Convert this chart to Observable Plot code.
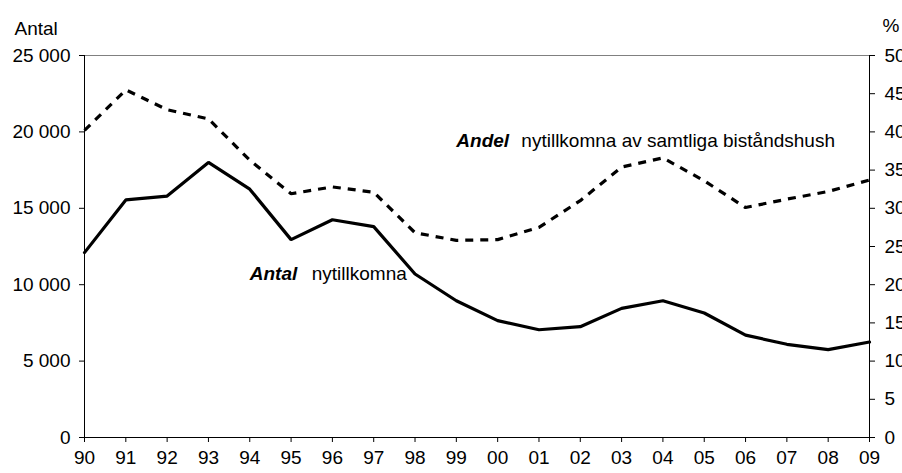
<!DOCTYPE html>
<html>
<head>
<meta charset="utf-8">
<script src="https://cdn.jsdelivr.net/npm/d3@7"></script>
<script src="https://cdn.jsdelivr.net/npm/@observablehq/plot@0.6"></script>
<style>
  html, body { margin: 0; padding: 0; background: #fff; overflow: hidden; width: 902px; height: 473px; }
  #chart svg { display: block; font-family: "Liberation Sans", Arial, sans-serif; }
</style>
</head>
<body>
<div id="chart"></div>
<script>
const years = [1990,1991,1992,1993,1994,1995,1996,1997,1998,1999,2000,2001,2002,2003,2004,2005,2006,2007,2008,2009];
const yearLabels = ["90","91","92","93","94","95","96","97","98","99","00","01","02","03","04","05","06","07","08","09"];
const antal = [12100,15550,15800,18000,16250,12950,14250,13800,10700,8950,7650,7050,7250,8450,8950,8150,6700,6100,5750,6250];
const andel = [40.2,45.5,42.9,41.7,36.3,31.9,32.8,32.1,26.8,25.8,25.9,27.5,31.0,35.4,36.6,33.6,30.1,31.2,32.2,33.7];
const antalTicks = [0,5000,10000,15000,20000,25000];
const pctTicks = [0,5,10,15,20,25,30,35,40,45,50];
const leftTitle = "Antal";
const rightTitle = "%";
const andelLabel = {x: 1999, y: 19400, bold: "Andel", rest: "nytillkomna av samtliga biståndshush"};
const antalLabel = {x: 1994, y: 10700, bold: "Antal", rest: "nytillkomna"};

const k = 25000 / 50; // percent -> left-scale units
const rows = years.map((yr, i) => ({year: yr, antal: antal[i], andel: andel[i] * k}));
const fmt = d => d3.format(",")(d).replace(/,/g, " ");
const FS = 19;

const chart = Plot.plot({
  width: 902,
  height: 473,
  marginLeft: 84,
  marginRight: 33,
  marginTop: 55,
  marginBottom: 36,
  style: {fontFamily: "Liberation Sans, Arial, sans-serif", fontSize: FS + "px", color: "#000", background: "#fff", overflow: "visible"},
  x: {domain: [1990, 2009], axis: null},
  y: {domain: [0, 25000], axis: null},
  marks: [
    Plot.ruleY([25000], {stroke: "#808080", strokeWidth: 1}),
    Plot.ruleY([0], {stroke: "#000", strokeWidth: 1}),
    Plot.ruleX([1990, 2009], {stroke: "#000", strokeWidth: 1}),
    Plot.axisY(antalTicks, {anchor: "left", tickSize: 5, tickPadding: 9, tickFormat: fmt, label: null, stroke: "#000", strokeOpacity: 1, fontSize: FS}),
    Plot.axisY(pctTicks.map(v => v * k), {anchor: "right", tickSize: 5, tickPadding: 10, tickFormat: d => String(d / k), label: null, stroke: "#000", strokeOpacity: 1, fontSize: FS}),
    Plot.axisX(years, {anchor: "bottom", tickSize: 5, tickPadding: 8, tickFormat: d => yearLabels[years.indexOf(d)], label: null, stroke: "#000", strokeOpacity: 1, fontSize: FS}),
    Plot.line(rows, {x: "year", y: "andel", stroke: "#000", strokeWidth: 3.2, strokeDasharray: "8,7", strokeLinejoin: "miter", strokeLinecap: "butt"}),
    Plot.line(rows, {x: "year", y: "antal", stroke: "#000", strokeWidth: 3.2, strokeLinejoin: "miter"}),
    Plot.text([andelLabel], {x: "x", y: "y", text: "bold", textAnchor: "start", fontWeight: "bold", fontStyle: "italic", fill: "#000", fontSize: FS}),
    Plot.text([andelLabel], {x: "x", y: "y", text: "rest", textAnchor: "start", dx: 65, fill: "#000", fontSize: FS}),
    Plot.text([antalLabel], {x: "x", y: "y", text: "bold", textAnchor: "start", fontWeight: "bold", fontStyle: "italic", fill: "#000", fontSize: FS}),
    Plot.text([antalLabel], {x: "x", y: "y", text: "rest", textAnchor: "start", dx: 62, fill: "#000", fontSize: FS}),
    Plot.text([leftTitle], {frameAnchor: "top-left", lineAnchor: "top", text: d => d, textAnchor: "start", dx: -70, dy: -34, fill: "#000", fontSize: FS}),
    Plot.text([rightTitle], {frameAnchor: "top-right", lineAnchor: "top", text: d => d, textAnchor: "start", dx: 13, dy: -37, fill: "#000", fontSize: FS})
  ]
});
document.getElementById("chart").appendChild(chart);
</script>
</body>
</html>
